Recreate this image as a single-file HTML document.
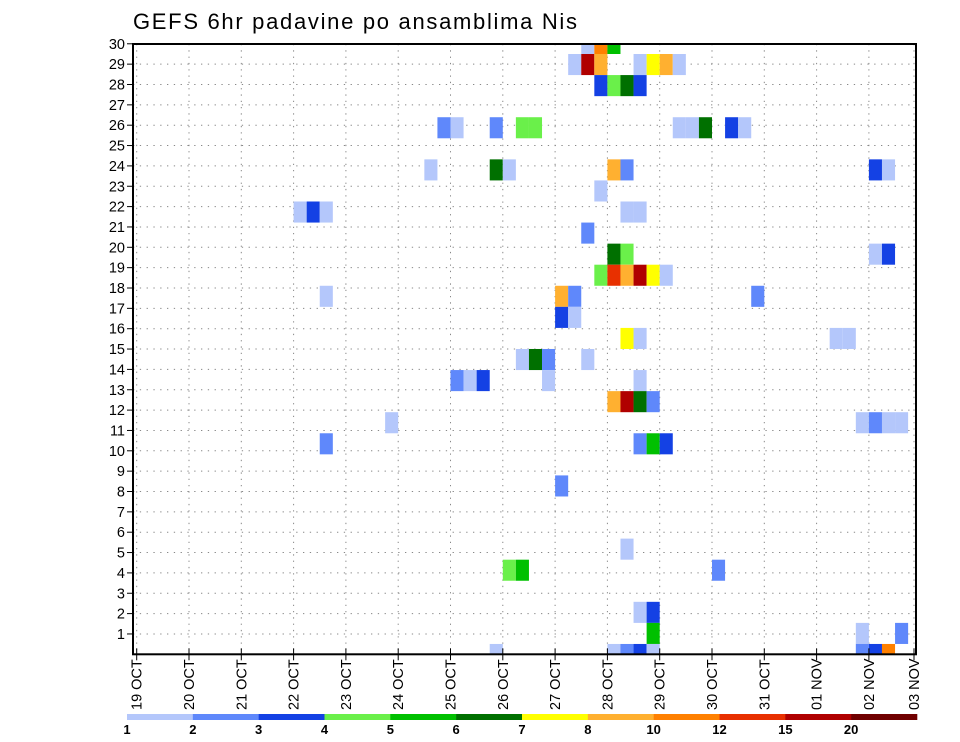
<!DOCTYPE html>
<html><head><meta charset="utf-8">
<style>
html,body{margin:0;padding:0;background:#fff;}
svg{display:block;font-family:"Liberation Sans",sans-serif;}
</style></head>
<body>
<svg id="chart" width="960" height="742" viewBox="0 0 960 742" xmlns="http://www.w3.org/2000/svg">
<text x="133" y="29" font-size="22" textLength="444" lengthAdjust="spacing" fill="#000">GEFS 6hr padavine po ansamblima Nis</text>
<g id="grid"></g>
<g id="cells"></g>
<g id="axes"></g>
<g id="colorbar"></g>
</svg>
<script>
// Categories
const dayLabels = ["19 OCT","20 OCT","21 OCT","22 OCT","23 OCT","24 OCT","25 OCT","26 OCT","27 OCT","28 OCT","29 OCT","30 OCT","31 OCT","01 NOV","02 NOV","03 NOV"];
const yTickLabels = [1,2,3,4,5,6,7,8,9,10,11,12,13,14,15,16,17,18,19,20,21,22,23,24,25,26,27,28,29,30];
const colorLevels = ["1","2","3","4","5","6","7","8","10","12","15","20"];
const colorBins = ["#b4c7fb","#5f88fb","#1441e4","#6af04a","#00c000","#007000","#ffff00","#ffb030","#ff8000","#e83000","#b00000","#700000"];
// cells: member index (0..29), 6h step index from 19 OCT 00Z, color bin
const cellMember = [29,29,29, 28,28,28,28,28,28,28, 27,27,27,27, 25,25,25,25,25,25,25,25,25,25, 23,23,23,23,23,23,23, 22, 21,21,21,21,21, 20, 19,19,19,19, 18,18,18,18,18,18, 17,17,17,17, 16,16, 15,15,15,15, 14,14,14,14, 13,13,13,13,13, 12,12,12,12, 11,11,11,11,11, 10,10,10,10, 8, 5, 4,4,4, 2,2, 1,1,1, 0,0,0,0,0,0,0,0];
const cellStep   = [34,35,36, 33,34,35,38,39,40,41, 35,36,37,38, 23,24,27,29,30,41,42,43,45,46, 22,27,28,36,37,56,57, 35, 12,13,14,37,38, 34, 36,37,56,57, 35,36,37,38,39,40, 14,32,33,47, 32,33, 37,38,53,54, 29,30,31,34, 24,25,26,31,38, 36,37,38,39, 19,55,56,57,58, 14,38,39,40, 32, 37, 28,29,44, 38,39, 39,55,58, 27,36,37,38,39,55,56,57];
const cellBin    = [0,8,4, 0,10,7,0,6,7,0, 2,3,5,2, 1,0,1,3,3,0,0,5,2,0, 0,5,0,7,1,2,0, 0, 0,2,0,0,0, 1, 5,3,0,2, 3,9,7,10,6,0, 0,7,1,1, 2,0, 6,0,0,0, 0,5,1,0, 1,0,2,0,0, 7,10,5,1, 0,0,1,0,0, 1,1,4,2, 1, 0, 3,4,1, 0,2, 4,0,1, 0,0,1,2,0,1,2,8];

const NS="http://www.w3.org/2000/svg";
const L=133,R=916,T=44,B=654.3;
const dayX0=136.7, dayW=52.3;
const xStep = s => dayX0 + s*dayW/4;
const yTick = k => B - k*20.35;
const yMember = m => 654.5 - m*21.07;
function mk(tag,attrs,parent){const e=document.createElementNS(NS,tag);for(const k in attrs)e.setAttribute(k,attrs[k]);parent.appendChild(e);return e;}
const grid=document.getElementById('grid'),cells=document.getElementById('cells'),axes=document.getElementById('axes'),cb=document.getElementById('colorbar');

yTickLabels.forEach(k=>{
  const y=yTick(k);
  const g=mk('line',{x1:L,x2:R,y1:y,y2:y,stroke:'#888','stroke-width':1,'stroke-dasharray':'1.3 5.5'},grid);
  
  
});
dayLabels.forEach((d,i)=>{
  const x=Math.min(dayX0+i*dayW,914);
  const g=mk('line',{x1:x,x2:x,y1:T,y2:B,stroke:'#888','stroke-width':1,'stroke-dasharray':'1.3 5'},grid);
  
  
});

const clip=mk('clipPath',{id:'pc'},document.getElementById('chart'));
mk('rect',{x:L,y:T,width:R-L,height:B-T},clip);
cells.setAttribute('clip-path','url(#pc)');
const cw=dayW/4, ch=21.07;
for(let j=0;j<cellMember.length;j++){
  const r=mk('rect',{x:xStep(cellStep[j]),y:yMember(cellMember[j])-ch/2,width:cw,height:ch,fill:colorBins[cellBin[j]]},cells);
  
  
}

const fr=mk('rect',{x:L,y:T,width:R-L,height:B-T,fill:'none',stroke:'#000','stroke-width':2},axes);



yTickLabels.forEach(k=>{
  const y=yTick(k);
  mk('line',{x1:L-6,x2:L,y1:y,y2:y,stroke:'#000','stroke-width':1},axes);
  const t=mk('text',{x:L-8,y:y+5,'text-anchor':'end','font-size':14.5,fill:'#000'},axes);
  t.textContent=k;
  
  
});

dayLabels.forEach((d,i)=>{
  const x=Math.min(dayX0+i*dayW,914);
  mk('line',{x1:x,x2:x,y1:B-6,y2:B+6,stroke:'#000','stroke-width':1},axes);
  const t=mk('text',{x:0,y:0,'text-anchor':'start','font-size':14.5,fill:'#000',transform:`translate(${x+5},${710}) rotate(-90)`},axes);
  t.textContent=d;
  
  
});

const cbX0=127, cbW=(917-127)/colorBins.length;
colorBins.forEach((c,i)=>{
  const r=mk('rect',{x:cbX0+i*cbW,y:714,width:cbW+0.3,height:6,fill:c},cb);
  
  
});
colorLevels.forEach((lv,i)=>{
  const t=mk('text',{x:cbX0+i*cbW,y:734,'text-anchor':'middle','font-size':13,'font-weight':'bold',fill:'#000'},cb);
  t.textContent=lv;
  
  
});
</script>
</body></html>
